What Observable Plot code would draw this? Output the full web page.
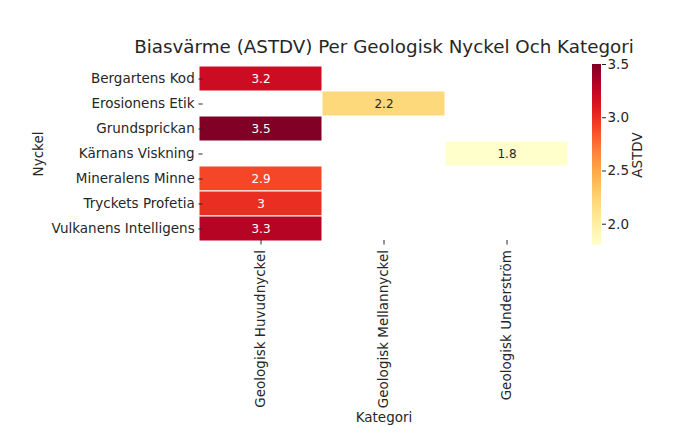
<!DOCTYPE html>
<html>
<head>
<meta charset="utf-8">
<script src="https://cdn.jsdelivr.net/npm/d3@7"></script>
<script src="https://cdn.jsdelivr.net/npm/@observablehq/plot@0.6"></script>
<style>
  body { margin: 0; background: white; }
  #wrap { position: relative; width: 688px; height: 436px; overflow: hidden; font-family: "DejaVu Sans", sans-serif; }
  #title { position: absolute; left: 84px; width: 600px; top: 36px; text-align: center; font-size: 18.3px; color: #262626; white-space: nowrap; }
  #main { position: absolute; left: 0; top: 0; }
  #legend { position: absolute; left: 580px; top: 0; }
</style>
</head>
<body>
<div id="wrap">
  <div id="main"></div>
  <div id="legend"></div>
  <div id="title">Biasvärme (ASTDV) Per Geologisk Nyckel Och Kategori</div>
</div>
<script>
const keys = ["Bergartens Kod", "Erosionens Etik", "Grundsprickan", "Kärnans Viskning", "Mineralens Minne", "Tryckets Profetia", "Vulkanens Intelligens"];
const categories = ["Geologisk Huvudnyckel", "Geologisk Mellannyckel", "Geologisk Underström"];
const keyCategory = ["Geologisk Huvudnyckel", "Geologisk Mellannyckel", "Geologisk Huvudnyckel", "Geologisk Underström", "Geologisk Huvudnyckel", "Geologisk Huvudnyckel", "Geologisk Huvudnyckel"];
const values = [3.2, 2.2, 3.5, 1.8, 2.9, 3.0, 3.3];
const colorTicks = [2.0, 2.5, 3.0, 3.5];
const colorDomain = [1.8, 3.5];

const data = keys.map((k, i) => ({key: k, cat: keyCategory[i], value: values[i]}));
const ink = "#262626";
const colorScale = {type: "linear", scheme: "YlOrRd", domain: colorDomain};
const fs = 13.5;

const main = Plot.plot({
  width: 688, height: 436,
  marginLeft: 199, marginRight: 120, marginTop: 63, marginBottom: 192,
  style: {fontFamily: "DejaVu Sans, sans-serif", fontSize: fs + "px", color: ink, background: "transparent"},
  x: {type: "band", domain: categories, padding: 0},
  y: {type: "band", domain: keys, padding: 0},
  color: colorScale,
  marks: [
    Plot.cell(data, {x: "cat", y: "key", fill: "value", stroke: "white", strokeWidth: 1, inset: 0}),
    Plot.text(data, {x: "cat", y: "key", text: d => String(d.value), fill: d => d.value > 2.6 ? "white" : ink, fontSize: 12}),
    Plot.axisX({anchor: "bottom", label: null, tickSize: 4.5, tickPadding: 5, tickRotate: -90, dy: -4, fontSize: fs}),
    Plot.axisX({anchor: "bottom", ticks: [], label: "Kategori", labelAnchor: "center", labelOffset: 177, fontSize: fs}),
    Plot.axisY({anchor: "left", label: null, tickSize: 4, tickPadding: 4.3, dx: 3.5, fontSize: fs}),
    Plot.axisY({anchor: "left", ticks: [], label: "Nyckel", labelAnchor: "center", labelOffset: 166, fontSize: fs})
  ]
});
document.getElementById("main").appendChild(main);

const step = 0.005;
const grad = d3.range(colorDomain[0], colorDomain[1], step);
const legend = Plot.plot({
  width: 100, height: 436,
  marginLeft: 12, marginRight: 79, marginTop: 64, marginBottom: 191,
  style: {fontFamily: "DejaVu Sans, sans-serif", fontSize: fs + "px", color: ink, background: "transparent"},
  x: {domain: [0, 1], axis: null},
  y: {domain: colorDomain},
  color: colorScale,
  marks: [
    Plot.rect(grad, {x1: 0, x2: 1, y1: d => d, y2: d => Math.min(d + step * 1.5, colorDomain[1]), fill: d => d + step / 2, shapeRendering: "crispEdges"}),
    Plot.axisY({anchor: "right", ticks: colorTicks, tickFormat: ".1f", tickSize: 4, tickPadding: 2, label: "ASTDV", labelArrow: "none", labelAnchor: "center", labelOffset: 40, fontSize: fs})
  ]
});
document.getElementById("legend").appendChild(legend);
</script>
</body>
</html>
